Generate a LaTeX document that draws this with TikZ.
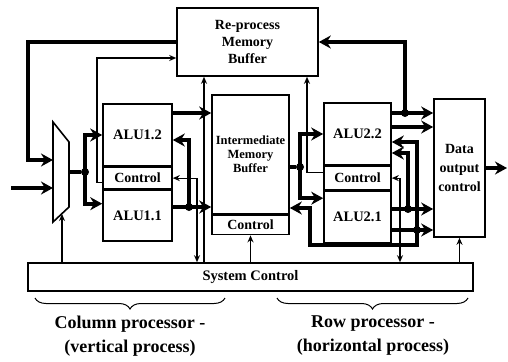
\documentclass[tikz,border=0pt]{standalone}
\usepackage{fontspec}
\setmainfont{Liberation Serif}
\usetikzlibrary{positioning,arrows.meta,decorations.pathreplacing}

\begin{document}
\begin{tikzpicture}[x=1pt,y=-1pt,
		box/.style={draw,line width=1.6pt,inner sep=0pt,align=center,font=\fontsize{14}{17}\selectfont\bfseries},
		bus/.style={line width=4.2pt,>={Stealth[length=12pt,width=13pt]}},
		sig/.style={line width=1.2pt,>={Stealth[length=7pt,width=6pt]}},
		dot/.style={circle,fill,inner sep=0pt,minimum size=8pt}]
		\useasboundingbox (0,0) rectangle (508,361);

		% --- Bloques de memoria ---
		\node[box,minimum width=141pt,minimum height=68pt] (remem) at (247.5,42) {Re-process\\Memory\\Buffer};
		\node[box,minimum width=77pt,minimum height=119pt,font=\fontsize{12.5}{14}\selectfont\bfseries] (intmem) at (250.5,154.5) {Intermediate\\Memory\\Buffer};
		\node[box,minimum width=77pt,minimum height=19pt,below=0pt of intmem] (intctl) {Control};

		% --- Procesador de columnas ---
		\node[box,minimum width=69pt,minimum height=62pt,font=\fontsize{14.5}{17}\selectfont\bfseries] (alu12) at (137.5,135) {ALU1.2};
		\node[box,minimum width=69pt,minimum height=21pt,below=0pt of alu12] (ctl1) {Control};
		\node[box,minimum width=69pt,minimum height=51pt,below=0pt of ctl1,font=\fontsize{14.5}{17}\selectfont\bfseries] (alu11) {ALU1.1};

		% --- Procesador de filas ---
		\node[box,minimum width=67pt,minimum height=62pt,font=\fontsize{14.5}{17}\selectfont\bfseries] (alu22) at (357.5,134) {ALU2.2};
		\node[box,minimum width=67pt,minimum height=23pt,below=0pt of alu22] (ctl2) {Control};
		\node[box,minimum width=67pt,minimum height=52pt,below=0pt of ctl2,font=\fontsize{14.5}{17}\selectfont\bfseries] (alu21) {ALU2.1};

		\node[box,minimum width=51pt,minimum height=138pt,font=\fontsize{14}{19}\selectfont\bfseries] (dout) at (459.5,168) {Data\\output\\control};
		\node[box,minimum width=445pt,minimum height=28pt,font=\fontsize{14.5}{17}\selectfont\bfseries] (sysctl) at (250.5,277) {System Control};

		% --- Multiplexor ---
		\draw[line width=1.6pt] (53,122) -- (69,142) -- (69,207) -- (53,222) -- cycle;
		\coordinate (muxin1) at (53,160);
		\coordinate (muxin2) at (53,188);
		\coordinate (muxout) at (69,172);
		\coordinate (muxbot) at (62,214);
		\coordinate (in) at (11,188);
		\coordinate (fb) at (28,160);
		\draw[bus,->] (in) -- (muxin2);
		\draw[bus,->] (remem.west) -| (fb) -- (muxin1);

		% --- Buses del lado de columnas ---
		\node[dot] (m1) at (85,172) {};
		\draw[bus] (muxout) -- (m1);
		\draw[bus,->] (m1.center) |- (alu12.west);
		\draw[bus,->] (m1.center) |- ([yshift=12pt]alu11.west);
		\coordinate (o12) at ([yshift=22pt]alu12.east);
		\draw[bus,->] (o12) -- (o12 -| intmem.west);
		\node[dot] (d11) at (189,207) {};
		\draw[bus,->] (alu11.east |- d11) -- (d11 -| intmem.west);
		\draw[bus,->] (d11.center) |- ([yshift=-5pt]alu12.east);

		% --- Buses del lado de filas ---
		\node[dot] (d2) at (300,167) {};
		\draw[bus] (d2 -| intmem.east) -- (d2);
		\draw[bus,->] (d2.center) |- (alu22.west);
		\draw[bus,->] (d2.center) |- ([yshift=19pt]alu21.west);
		\node[dot] (d3) at (405,113) {};
		\draw[bus,->] (alu22.east |- d3) -- (d3 -| dout.west);
		\draw[bus,->] (d3.center) |- (remem.east);
		\coordinate (o22) at ([yshift=7pt]alu22.east);
		\draw[bus,->] (o22) -- (o22 -| dout.west);
		\node[dot] (d4) at (408,209) {};
		\draw[bus,->] (alu21.east |- d4) -- (d4 -| dout.west);
		\draw[bus,->] (d4.center) |- ([yshift=-19pt]alu22.east);
		\node[dot] (d5) at (417,230) {};
		\draw[bus,->] (alu21.east |- d5) -- (d5 -| dout.west);
		\draw[bus,->] (d5.center) |- ([yshift=-8pt]alu22.east);
		\coordinate (lp) at (310,245);
		\draw[bus,->] (d5.center) |- (lp) |- ([yshift=-53.5pt]intmem.east);
		\coordinate (out) at (507,168);
		\draw[bus,->] (dout.east) -- (out);

		% --- Senales de control ---
		\coordinate (k1) at (97,58);
		\coordinate (k2) at (204,0);
		\coordinate (k3) at (307,0);
		\coordinate (c1) at (197,0);
		\coordinate (c2) at (400,0);
		\draw[sig,->] ([yshift=-4pt]ctl1.west) -| (k1) -- (k1 -| remem.west);
		\draw[sig,<->] (ctl1.east) -| (c1 |- sysctl.north);
		\draw[sig,->] (sysctl.north -| k2) -- (remem.south -| k2);
		\draw[sig,->] (sysctl.north -| muxbot) -- (muxbot);
		\draw[sig,->] (sysctl.north -| intctl.south) -- (intctl.south);
		\draw[sig,->] ([yshift=6pt]ctl2.west) -| (remem.south -| k3);
		\draw[sig,<->] (ctl2.east) -| (c2 |- sysctl.north);
		\draw[sig,->] (sysctl.north -| dout.south) -- (dout.south);

		% --- Llaves y rotulos ---
		\draw[line width=1pt,decorate,decoration={brace,mirror,amplitude=11pt}] (35,298) -- (225,298);
		\draw[line width=1pt,decorate,decoration={brace,mirror,amplitude=11pt}] (277,298) -- (468,298);
		\node[align=center,font=\fontsize{18}{24}\selectfont\bfseries] (colp) at (130,336) {Column processor -\\(vertical process)};
		\node[align=center,font=\fontsize{18}{24}\selectfont\bfseries] (rowp) at (373,336) {Row processor -\\(horizontal process)};
	\end{tikzpicture}
\end{document}
